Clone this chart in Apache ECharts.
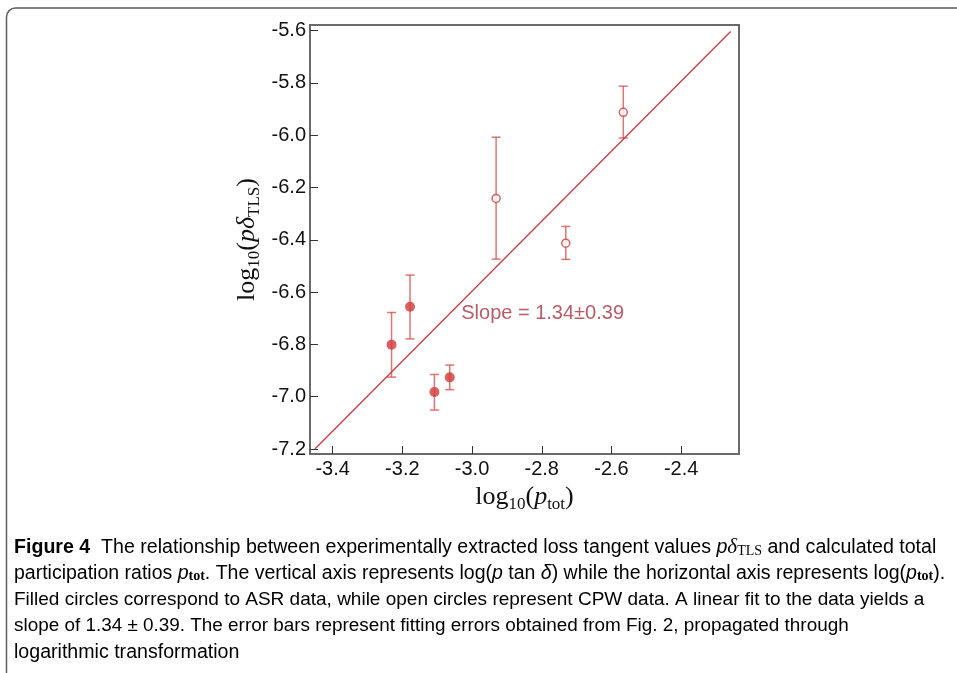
<!DOCTYPE html>
<html>
<head>
<meta charset="utf-8">
<style>
  html, body { margin: 0; padding: 0; background: #fff; }
  #chart { width: 957px; height: 673px; }
</style>
<script src="https://cdn.jsdelivr.net/npm/echarts@6/dist/echarts.min.js"></script>
</head>
<body>
<div id="chart"></div>
<script>
// ASR samples (filled circles)
const asrX = [-3.231, -3.178, -3.108, -3.064];
const asrY = [-6.801, -6.656, -6.982, -6.926];
const asrHi = [-6.678, -6.535, -6.915, -6.879];
const asrLo = [-6.925, -6.779, -7.051, -6.973];
// CPW samples (open circles)
const cpwX = [-2.931, -2.731, -2.566];
const cpwY = [-6.242, -6.413, -5.913];
const cpwHi = [-6.008, -6.349, -5.813];
const cpwLo = [-6.474, -6.475, -6.011];
// linear fit end points
const fitX = [-3.451, -2.258];
const fitY = [-7.2, -5.604];
const slopeText = 'Slope = 1.34\u00b10.39';
const slopePos = [-3.031, -6.683];

const chart = echarts.init(document.getElementById('chart'));

const red = '#d23a3a';
const barColor = 'rgba(214,62,62,0.72)';
const sansFont = '"Liberation Sans", Arial, sans-serif';
const serifFont = '"Liberation Serif", "DejaVu Serif", serif';
const capFont = '"Liberation Sans", sans-serif';

// 误差棒：custom series
function errorBars(xs, lo, hi) {
  return {
    type: 'custom',
    silent: true,
    z: 2,
    data: xs.map((x, i) => [x, lo[i], hi[i]]),
    renderItem: (params, api) => {
      const a = api.coord([api.value(0), api.value(1)]);
      const b = api.coord([api.value(0), api.value(2)]);
      const w = 4.5;
      const style = { stroke: barColor, lineWidth: 1.5 };
      return {
        type: 'group',
        children: [
          { type: 'line', shape: { x1: a[0], y1: a[1], x2: b[0], y2: b[1] }, style },
          { type: 'line', shape: { x1: a[0] - w, y1: a[1], x2: a[0] + w, y2: a[1] }, style },
          { type: 'line', shape: { x1: b[0] - w, y1: b[1], x2: b[0] + w, y2: b[1] }, style }
        ]
      };
    }
  };
}

const tick1 = v => (Math.abs(v * 5 - Math.round(v * 5)) < 1e-6 ? v.toFixed(1) : '');

const axisRich = {
  r: { fontFamily: serifFont, fontSize: 26, color: '#111', lineHeight: 32 },
  i: { fontFamily: serifFont, fontSize: 26, fontStyle: 'italic', color: '#111', lineHeight: 32 },
  s: { fontFamily: serifFont, fontSize: 17, color: '#111', lineHeight: 15, verticalAlign: 'bottom' }
};

// 图注：每行字号略调，使行宽接近原图
function capRich(fs) {
  const base = { fontFamily: capFont, fontSize: fs, color: '#222' };
  return {
    t: base,
    b: Object.assign({}, base, { fontWeight: 'bold' }),
    i: Object.assign({}, base, { fontStyle: 'italic' }),
    g: { fontFamily: serifFont, fontSize: 21, fontStyle: 'italic', color: '#222' },
    s: { fontFamily: serifFont, fontSize: 14, color: '#222', verticalAlign: 'bottom', lineHeight: 12 },
    sb: { fontFamily: serifFont, fontSize: 14, fontWeight: 'bold', color: '#222', verticalAlign: 'bottom', lineHeight: 12 },
    lk: { fontFamily: capFont, fontSize: fs, color: '#0b57d0' }
  };
}
const capLines = [
  '{b|Figure 4}{t|  The relationship between experimentally extracted loss tangent values }{i|p}{g|\u03b4}{s|TLS}{t| and calculated total}',
  '{t|participation ratios }{i|p}{sb|tot}{t|. The vertical axis represents log(}{i|p}{t| tan }{i|\u03b4}{t|) while the horizontal axis represents log(}{i|p}{sb|tot}{t|).}',
  '{t|Filled circles correspond to ASR data, while open circles represent CPW data. A linear fit to the data yields a}',
  '{t|slope of 1.34 \u00b1 0.39. The error bars represent fitting errors obtained from Fig. }{lk|2}{t|, propagated through}',
  '{t|logarithmic transformation}'
];
const capSizes = [19.6, 19.5, 19.0, 18.9, 19.6];

const options = {
  animation: false,
  backgroundColor: '#fff',
  grid: {
    left: 310, top: 25, width: 429, height: 429,
    show: true, borderColor: '#6a6a6a', borderWidth: 2
  },
  xAxis: {
    type: 'value',
    min: -3.465, max: -2.234,
    splitNumber: 6,
    splitLine: { show: false },
    axisLine: { show: true, onZero: false, lineStyle: { color: '#6a6a6a', width: 2 } },
    axisTick: { inside: true, length: 8, lineStyle: { color: '#333', width: 1 } },
    axisLabel: { formatter: tick1, showMinLabel: false, showMaxLabel: false, fontFamily: sansFont, fontSize: 20, color: '#111', margin: 5 },
    name: '{r|log}{s|10}{r|(}{i|p}{s|tot}{r|)}',
    nameLocation: 'middle',
    nameGap: 27,
    nameTextStyle: { rich: axisRich }
  },
  yAxis: {
    type: 'value',
    min: -7.219, max: -5.579,
    splitNumber: 8,
    splitLine: { show: false },
    axisLine: { show: true, onZero: false, lineStyle: { color: '#6a6a6a', width: 2 } },
    axisTick: { inside: true, length: 8, lineStyle: { color: '#333', width: 1 } },
    axisLabel: { formatter: tick1, showMinLabel: false, showMaxLabel: false, fontFamily: sansFont, fontSize: 20, color: '#111', margin: 4 },
    name: '{r|log}{s|10}{r|(}{i|p\u03b4}{s|TLS}{r|)}',
    nameLocation: 'middle',
    nameGap: 47,
    nameTextStyle: { rich: axisRich }
  },
  series: [
    {
      type: 'line',
      data: fitX.map((x, i) => [x, fitY[i]]),
      symbol: 'none',
      lineStyle: { color: '#cc3a40', width: 1.3 },
      z: 1
    },
    errorBars(asrX, asrLo, asrHi),
    errorBars(cpwX, cpwLo, cpwHi),
    {
      type: 'scatter',
      data: asrX.map((x, i) => [x, asrY[i]]),
      symbol: 'circle',
      symbolSize: 10,
      itemStyle: { color: red },
      z: 3
    },
    {
      type: 'scatter',
      data: cpwX.map((x, i) => [x, cpwY[i]]),
      symbol: 'circle',
      symbolSize: 8,
      itemStyle: { color: '#fff', borderColor: red, borderWidth: 1.5 },
      z: 3
    },
    {
      type: 'scatter',
      data: [slopePos],
      symbolSize: 0,
      silent: true,
      label: {
        show: true,
        formatter: slopeText,
        position: [0, 0],
        align: 'left',
        verticalAlign: 'middle',
        fontFamily: sansFont,
        fontSize: 20,
        color: '#a8333f'
      }
    }
  ],
  graphic: [
    {
      type: 'rect',
      shape: { x: 6.5, y: 8, width: 1200, height: 900, r: 9 },
      style: { fill: 'none', stroke: '#5c5c5c', lineWidth: 1.5 },
      silent: true
    }
  ].concat(capLines.map((txt, k) => ({
    type: 'text',
    left: 14,
    top: 537 + k * 26.5,
    style: { text: txt, rich: capRich(capSizes[k]), verticalAlign: 'top' },
    silent: true
  })))
};

chart.setOption(options);
</script>
</body>
</html>
